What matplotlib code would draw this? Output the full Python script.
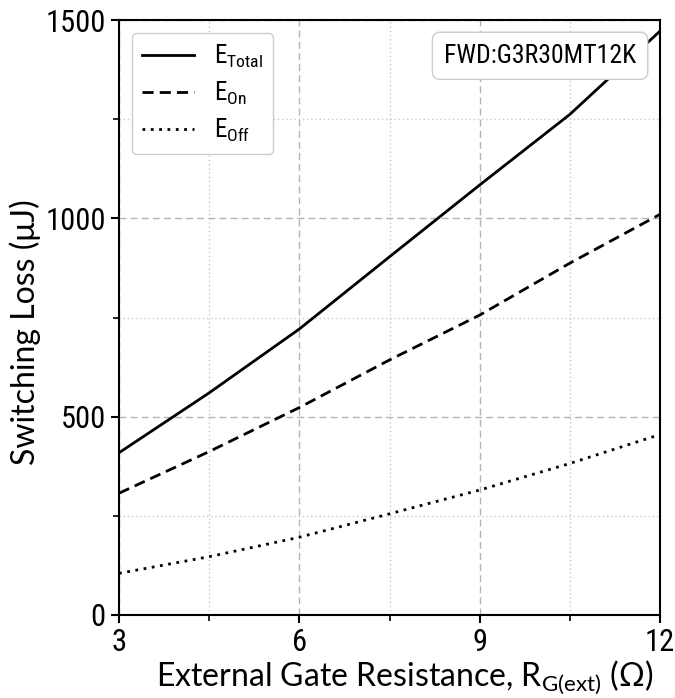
import matplotlib
matplotlib.use("Agg")
import matplotlib.pyplot as plt
from matplotlib.ticker import MultipleLocator
from matplotlib import font_manager

# gate resistance (ohm) and switching losses (uJ)
rg = [3, 4.5, 6, 7.5, 9, 10.5, 12]
e_total = [409, 560, 721, 903, 1084, 1262, 1472]
e_on = [307, 412, 523, 643, 756, 887, 1010]
e_off = [105, 147, 196, 255, 315, 382, 455]

names = {f.name for f in font_manager.fontManager.ttflist}
cond = "Roboto Condensed" if "Roboto Condensed" in names else "Roboto"

plt.rcParams["mathtext.fontset"] = "custom"
plt.rcParams["mathtext.rm"] = cond
plt.rcParams["mathtext.sf"] = "Lato"

fig = plt.figure(figsize=(6.75, 6.98), dpi=100)
ax = fig.add_axes([119 / 675, 1 - 615 / 698, 541 / 675, 595 / 698])

ax.plot(rg, e_total, color="black", lw=2, ls="-", label=r"E$_{\mathrm{Total}}$")
ax.plot(rg, e_on, color="black", lw=2, ls=(0, (4, 2.2)), label=r"E$_{\mathrm{On}}$")
ax.plot(rg, e_off, color="black", lw=2, ls=(0, (1, 2)), label=r"E$_{\mathrm{Off}}$")

ax.set_xlim(3, 12)
ax.set_ylim(0, 1500)
ax.xaxis.set_major_locator(MultipleLocator(3))
ax.xaxis.set_minor_locator(MultipleLocator(1.5))
ax.yaxis.set_major_locator(MultipleLocator(500))
ax.yaxis.set_minor_locator(MultipleLocator(250))

ax.grid(which="major", color="#b4b4b4", ls=(0, (5, 3)), lw=1)
ax.grid(which="minor", color="#c8c8c8", ls=(0, (1, 2)), lw=1)
ax.set_axisbelow(True)

for s in ax.spines.values():
    s.set_linewidth(1.5)
ax.tick_params(which="major", length=6, width=1.5, direction="out")
ax.tick_params(which="minor", length=4, width=1.2, direction="out")
for lbl in ax.get_xticklabels() + ax.get_yticklabels():
    lbl.set_family(cond)
    lbl.set_fontsize(22)

ax.set_xlabel(r"External Gate Resistance, R$_{\mathsf{G(ext)}}$ ($\mathsf{\Omega}$)",
              family="Lato", fontsize=23)
ax.xaxis.set_label_coords((405 - 119) / 541, -0.074)
ax.set_ylabel("Switching Loss (μJ)", family="Lato", fontsize=23)
ax.yaxis.set_label_coords(-0.145, 0.475)

leg = ax.legend(loc="upper left", prop={"family": cond, "size": 18},
                handlelength=2.1, borderpad=0.4, labelspacing=0.4,
                handletextpad=0.8, framealpha=1, edgecolor="#cccccc",
                bbox_to_anchor=(0.0, 1.0))

ax.text(0.956, 0.96, "FWD:G3R30MT12K", transform=ax.transAxes, ha="right", va="top",
        family=cond, fontsize=18.5,
        bbox=dict(boxstyle="round,pad=0.45,rounding_size=0.3", fc="white", ec="#cccccc", lw=1))

fig.savefig("out.png", dpi=100)
